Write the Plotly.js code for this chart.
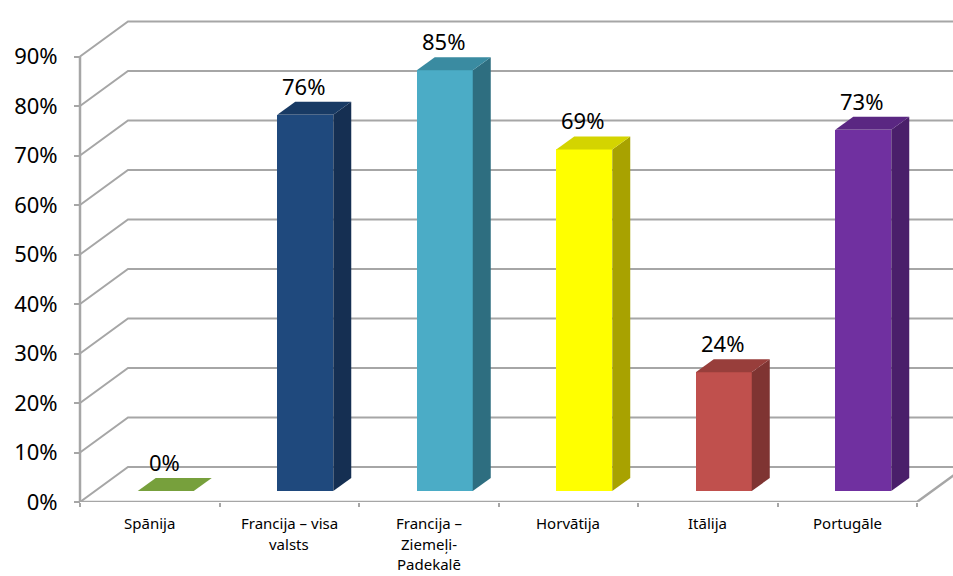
<!DOCTYPE html>
<html>
<head>
<meta charset="utf-8">
<script src="https://cdn.plot.ly/plotly-3.0.1.min.js"></script>
<style>html,body{margin:0;padding:0;background:#fff;}#chart{width:953px;height:576px;}</style>
</head>
<body>
<div id="chart"></div>
<script>
// ---- data ----
const categories = ["Spānija", "Francija – visa|valsts", "Francija –|Ziemeļi-|Padekalē", "Horvātija", "Itālija", "Portugāle"];
const values = [0, 76, 85, 69, 24, 73];
const yTickValues = [0, 10, 20, 30, 40, 50, 60, 70, 80, 90];
const yTickLabels = ["0%", "10%", "20%", "30%", "40%", "50%", "60%", "70%", "80%", "90%"];
const frontColors = ["#77A03C", "#1F497D", "#4BACC6", "#FFFF00", "#C0504D", "#7030A0"];
const topColors   = ["#77A03C", "#183A64", "#3A8BA1", "#D4D400", "#983E3B", "#5A2782"];
const sideColors  = ["#5C7D2E", "#152F52", "#2E6E80", "#A8A200", "#7F3432", "#4A1F6A"];

// ---- geometry (pixels -> data units) ----
const W = 953, H = 576;
const pxPerCat = 139.5, pxPerPct = 4.95;
const axisLeftPx = 80, axisBottomPx = 502;
const xL = -0.5 - axisLeftPx / pxPerCat;
const xR = xL + W / pxPerCat;
const yTop = axisBottomPx / pxPerPct;
const DX = 48 / pxPerCat, DY = 35 / pxPerPct;          // wall depth
const dx0 = 16 / pxPerCat, dy0 = 11 / pxPerPct;        // bar front offset
const ddx = 18 / pxPerCat, ddy = 13 / pxPerPct;        // bar depth
const barW = 56 / pxPerCat;
const nCat = categories.length;
const gridColor = "#A6A6A6";

const traces = [];
// back wall gridlines + side-wall diagonals
const gx = [], gy = [];
yTickValues.forEach(v => {
  gx.push(-0.5, -0.5 + DX, xR, null);
  gy.push(v, v + DY, v + DY, null);
});
traces.push({type: "scatter", mode: "lines", x: gx, y: gy, line: {color: gridColor, width: 2}, hoverinfo: "skip", showlegend: false});
// front floor edge, right floor diagonal, left vertical axis
traces.push({type: "scatter", mode: "lines",
  x: [-0.5, -0.5, null, -0.5, nCat - 0.5, nCat - 0.5 + DX],
  y: [yTickValues[yTickValues.length - 1], 0, null, 0, 0, DY],
  line: {color: gridColor, width: 2.5}, hoverinfo: "skip", showlegend: false});

// bars (front faces) on shifted overlay axes
const idx = categories.map((c, i) => i);
traces.push({type: "bar", x: idx, y: values, width: barW, xaxis: "x2", yaxis: "y2",
  marker: {color: frontColors, line: {width: 0}}, hoverinfo: "skip", showlegend: false});
// side and top faces
values.forEach((v, i) => {
  const l = i - barW / 2, r = i + barW / 2;
  if (v > 0) {
    traces.push({type: "scatter", mode: "lines", xaxis: "x2", yaxis: "y2", fill: "toself",
      x: [r, r + ddx, r + ddx, r, r], y: [0, ddy, v + ddy, v, 0],
      fillcolor: sideColors[i], line: {width: 0, color: sideColors[i]}, hoverinfo: "skip", showlegend: false});
  }
  traces.push({type: "scatter", mode: "lines", xaxis: "x2", yaxis: "y2", fill: "toself",
    x: [l, r, r + ddx, l + ddx, l], y: [v, v, v + ddy, v + ddy, v],
    fillcolor: topColors[i], line: {width: 0, color: topColors[i]}, hoverinfo: "skip", showlegend: false});
});

const annotations = [];
// data labels
values.forEach((v, i) => {
  annotations.push({xref: "x2", yref: "y2", x: i - 0.01, y: v + ddy, yanchor: "bottom", xanchor: "center",
    text: v + "%", showarrow: false, font: {family: "Noto Sans", size: 22, color: "#000"}, yshift: -1});
});
// category labels (one annotation per line)
categories.forEach((c, i) => {
  c.split("|").forEach((line, k) => {
    annotations.push({xref: "x", yref: "y", x: i, y: 0, yanchor: "middle", xanchor: "center",
      text: line, showarrow: false, yshift: -21 - 20.5 * k,
      font: {family: "Noto Sans", size: 15, color: "#000"}});
  });
});

const xTickVals = [];
for (let i = 0; i <= nCat; i++) xTickVals.push(i - 0.5);

const layout = {
  width: W, height: H,
  margin: {l: 0, r: 0, t: 0, b: H - axisBottomPx, pad: 0},
  paper_bgcolor: "#fff", plot_bgcolor: "#fff",
  showlegend: false,
  xaxis: {range: [xL, xR], domain: [0, 1], showgrid: false, zeroline: false, showline: false,
    tickmode: "array", tickvals: xTickVals, ticks: "outside", ticklen: 4, tickwidth: 2, tickcolor: gridColor,
    showticklabels: false, fixedrange: true},
  yaxis: {range: [0, yTop], domain: [0, 1], anchor: "free", position: axisLeftPx / W,
    showgrid: false, zeroline: false, showline: false,
    tickmode: "array", tickvals: yTickValues, ticktext: yTickLabels,
    ticks: "outside", ticklen: 6, tickwidth: 2, tickcolor: gridColor, ticklabelstandoff: 12,
    tickfont: {family: "Noto Sans", size: 22, color: "#000"}, fixedrange: true},
  xaxis2: {overlaying: "x", anchor: "y2", range: [xL - dx0, xR - dx0], visible: false, fixedrange: true},
  yaxis2: {overlaying: "y", anchor: "x2", range: [-dy0, yTop - dy0], visible: false, fixedrange: true},
  bargap: 0,
  annotations: annotations
};

Plotly.newPlot("chart", traces, layout, {staticPlot: true, displayModeBar: false});
</script>
</body>
</html>
